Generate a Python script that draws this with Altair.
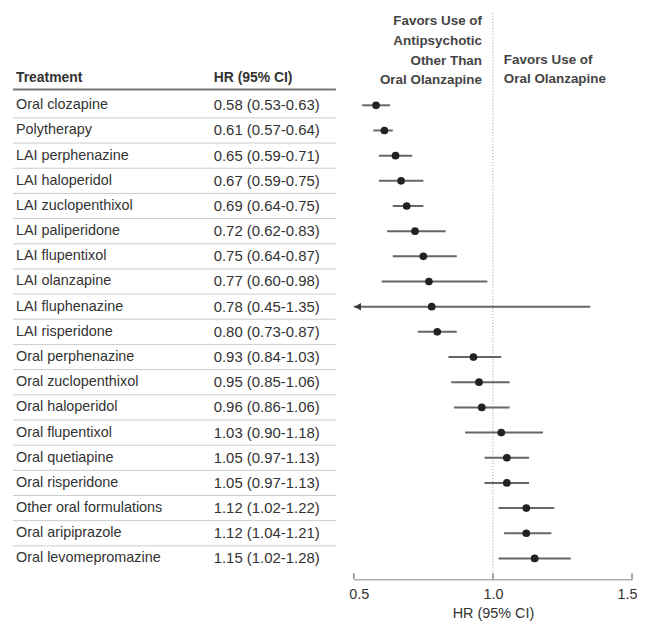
import altair as alt
import pandas as pd

treatments = [
    "Oral clozapine", "Polytherapy", "LAI perphenazine", "LAI haloperidol",
    "LAI zuclopenthixol", "LAI paliperidone", "LAI flupentixol", "LAI olanzapine",
    "LAI fluphenazine", "LAI risperidone", "Oral perphenazine", "Oral zuclopenthixol",
    "Oral haloperidol", "Oral flupentixol", "Oral quetiapine", "Oral risperidone",
    "Other oral formulations", "Oral aripiprazole", "Oral levomepromazine",
]
hr = [0.58, 0.61, 0.65, 0.67, 0.69, 0.72, 0.75, 0.77, 0.78, 0.80,
      0.93, 0.95, 0.96, 1.03, 1.05, 1.05, 1.12, 1.12, 1.15]
lo = [0.53, 0.57, 0.59, 0.59, 0.64, 0.62, 0.64, 0.60, 0.45, 0.73,
      0.84, 0.85, 0.86, 0.90, 0.97, 0.97, 1.02, 1.04, 1.02]
hi = [0.63, 0.64, 0.71, 0.75, 0.75, 0.83, 0.87, 0.98, 1.35, 0.87,
      1.03, 1.06, 1.06, 1.18, 1.13, 1.13, 1.22, 1.21, 1.28]
x_ticks = [0.5, 1.0, 1.5]
x_min, x_max = 0.5, 1.5

FONT = "Liberation Sans"
FS = 13.5
TXT = "#333333"

df = pd.DataFrame({"treatment": treatments, "hr": hr, "lo": lo, "hi": hi})
df["idx"] = list(range(len(df)))
df["label"] = [f"{h:.2f} ({l:.2f}-{u:.2f})" for h, l, u in zip(hr, lo, hi)]
df["lo_c"] = df["lo"].clip(lower=x_min)
df["hi_c"] = df["hi"].clip(upper=x_max)
n = len(df)
sep_df = pd.DataFrame({"sep": [i + 0.5 for i in range(n - 1)]})
arrow_df = df[df["lo"] < x_min][["idx", "lo_c"]]

yscale = alt.Scale(domain=[-3.67, n - 1 + 0.83], reverse=True, nice=False, zero=False)
xscale = alt.Scale(domain=[x_min, x_max], nice=False, zero=False)


def Y(field):
    return alt.Y(field, scale=yscale, axis=None)


xaxis = alt.Axis(values=x_ticks, format=".1f", ticks=False, tickSize=0, grid=False,
                 domainColor="#888888", labelPadding=8, labelFlush=True,
                 labelFlushOffset=5,
                 labelFont=FONT, labelFontSize=14.5, labelColor=TXT,
                 title="HR (95% CI)", titleFont=FONT, titleFontSize=14.5,
                 titleColor=TXT, titleFontWeight="normal", titlePadding=6)

base = alt.Chart(df)

ref = alt.Chart(pd.DataFrame({"x": [1.0]})).mark_rule(
    color="#999999", strokeWidth=1, strokeDash=[1, 2]
).encode(x=alt.X("x:Q", scale=xscale, axis=xaxis))

ticks = alt.Chart(pd.DataFrame({"tx": x_ticks})).mark_rule(
    color="#888888", strokeWidth=1.5
).encode(x=alt.X("tx:Q", scale=xscale), y=alt.value(570), y2=alt.value(564))

bars = base.mark_rule(color="#666666", strokeWidth=2).encode(
    x=alt.X("lo_c:Q", scale=xscale), x2="hi_c:Q", y=Y("idx:Q"))

arrows = alt.Chart(arrow_df).mark_point(
    shape="triangle-left", filled=True, size=55, color="#333333", opacity=1, xOffset=4
).encode(x=alt.X("lo_c:Q", scale=xscale), y=Y("idx:Q"))

dots = base.mark_circle(size=60, color="#222222", opacity=1).encode(
    x=alt.X("hr:Q", scale=xscale), y=Y("idx:Q"))

names = base.mark_text(align="left", baseline="middle", font=FONT, fontSize=14.5,
                       color=TXT).encode(x=alt.value(-340), y=Y("idx:Q"), text="treatment:N")
hrs = base.mark_text(align="left", baseline="middle", font=FONT, fontSize=15,
                     color=TXT).encode(x=alt.value(-141), y=Y("idx:Q"), text="label:N")

seps = alt.Chart(sep_df).mark_rule(color="#cccccc", strokeWidth=1).encode(
    x=alt.value(-343), x2=alt.value(-18), y=Y("sep:Q"))

hdr = pd.DataFrame({"htext": ["Treatment", "HR (95% CI)"], "hy": [-1.1, -1.1]})
head1 = alt.Chart(hdr.iloc[[0]]).mark_text(
    align="left", baseline="middle", font=FONT, fontSize=14, fontWeight="bold", color=TXT
).encode(x=alt.value(-340), y=Y("hy:Q"), text="htext:N")
head2 = alt.Chart(hdr.iloc[[1]]).mark_text(
    align="left", baseline="middle", font=FONT, fontSize=14, fontWeight="bold", color=TXT
).encode(x=alt.value(-141), y=Y("hy:Q"), text="htext:N")

underline = alt.Chart(pd.DataFrame({"uy": [-0.63]})).mark_rule(
    color="#777777", strokeWidth=2
).encode(x=alt.value(-343), x2=alt.value(-18), y=Y("uy:Q"))

ann = pd.DataFrame({
    "atext": ["Favors Use of\nAntipsychotic\nOther Than\nOral Olanzapine",
              "Favors Use of\nOral Olanzapine"],
    "ax": [1.0, 1.0], "ay": [-3.63, -2.09],
})
ann_left = alt.Chart(ann.iloc[[0]]).mark_text(
    align="right", baseline="top", lineBreak="\n", lineHeight=20, dx=-11,
    font=FONT, fontSize=FS, fontWeight="bold", color="#444444"
).encode(x=alt.X("ax:Q", scale=xscale), y=Y("ay:Q"), text="atext:N")
ann_right = alt.Chart(ann.iloc[[1]]).mark_text(
    align="left", baseline="top", lineBreak="\n", lineHeight=20, dx=11,
    font=FONT, fontSize=FS, fontWeight="bold", color="#444444"
).encode(x=alt.X("ax:Q", scale=xscale), y=Y("ay:Q"), text="atext:N")

chart = alt.layer(
    ref, ticks, seps, underline, bars, arrows, dots, names, hrs, head1, head2,
    ann_left, ann_right
).properties(
    width=280, height=570,
    padding={"left": 4, "top": 2, "right": 0, "bottom": 0},
).configure_view(strokeWidth=0)

chart.save("out.html", embed_options={"renderer": "svg", "actions": False})
